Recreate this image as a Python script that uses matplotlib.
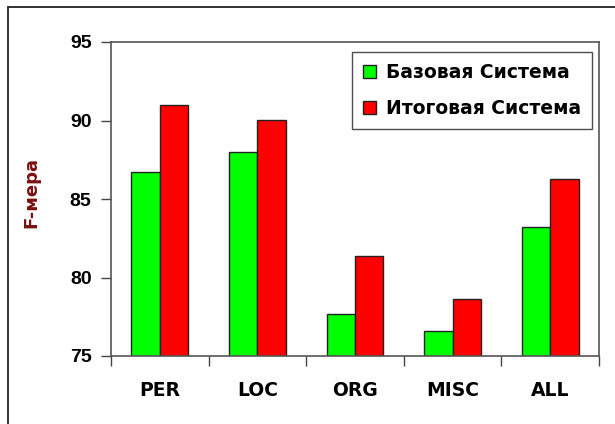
import numpy as np
import matplotlib.pyplot as plt
from matplotlib.patches import Rectangle

categories = ["PER", "LOC", "ORG", "MISC", "ALL"]
base_values = [86.7, 88.0, 77.7, 76.6, 83.2]
final_values = [91.0, 90.05, 81.4, 78.65, 86.3]
labels = ["Базовая Система", "Итоговая Система"]

plt.rcParams['font.family'] = ['Liberation Sans', 'DejaVu Sans']
wide = ['DejaVu Sans']

fig = plt.figure(figsize=(6.15, 4.24), dpi=100)
ax = fig.add_axes([111 / 615, 1 - 356 / 424, 488 / 615, 314 / 424])

# outer chart frame (runs off the right and bottom edges)
fig.patches.append(Rectangle((8 / 615, -0.5), 2, 1.5 - 7 / 424, transform=fig.transFigure,
                             fill=False, edgecolor='#222222', linewidth=1.3))

x = np.arange(len(categories))
w = 0.29
ax.bar(x - w / 2, np.array(base_values) - 75, w, bottom=75, color='#00ff00',
       edgecolor='#222222', linewidth=1, label=labels[0])
ax.bar(x + w / 2, np.array(final_values) - 75, w, bottom=75, color='#ff0000',
       edgecolor='#222222', linewidth=1, label=labels[1])

ax.set_xlim(-0.5, len(categories) - 0.5)
ax.set_ylim(75, 95)
ax.set_yticks([75, 80, 85, 90, 95])
ax.set_xticks(np.arange(len(categories) + 1) - 0.5, minor=False)
ax.set_xticklabels([])
ax.set_xticks(x, minor=True)
ax.set_xticklabels(categories, minor=True, fontsize=13.5, fontweight='bold', family=wide)
ax.tick_params(axis='x', which='minor', length=0, pad=18)
ax.tick_params(axis='x', which='major', length=7, width=1, color='#444444')
ax.tick_params(axis='y', length=7, width=1, color='#444444', labelsize=14, pad=7)
for t in ax.get_yticklabels():
    t.set_fontweight('bold')
for s in ax.spines.values():
    s.set_color('#555555')
    s.set_linewidth(1.2)

ax.set_ylabel("F-мера", fontsize=13, fontweight='bold', color='#7a1010', family=wide)
ax.yaxis.set_label_coords(-0.145, 0.52)

leg = ax.legend(loc='upper right', bbox_to_anchor=(0.986, 0.968), borderaxespad=0,
                prop={'family': wide, 'size': 13.5, 'weight': 'bold'},
                frameon=True, fancybox=False, handlelength=0.7, handleheight=0.7,
                handletextpad=0.5, borderpad=0.6, labelspacing=0.9)
leg.get_frame().set_edgecolor('#222222')
leg.get_frame().set_linewidth(1)

fig.savefig("out.png", dpi=100)
